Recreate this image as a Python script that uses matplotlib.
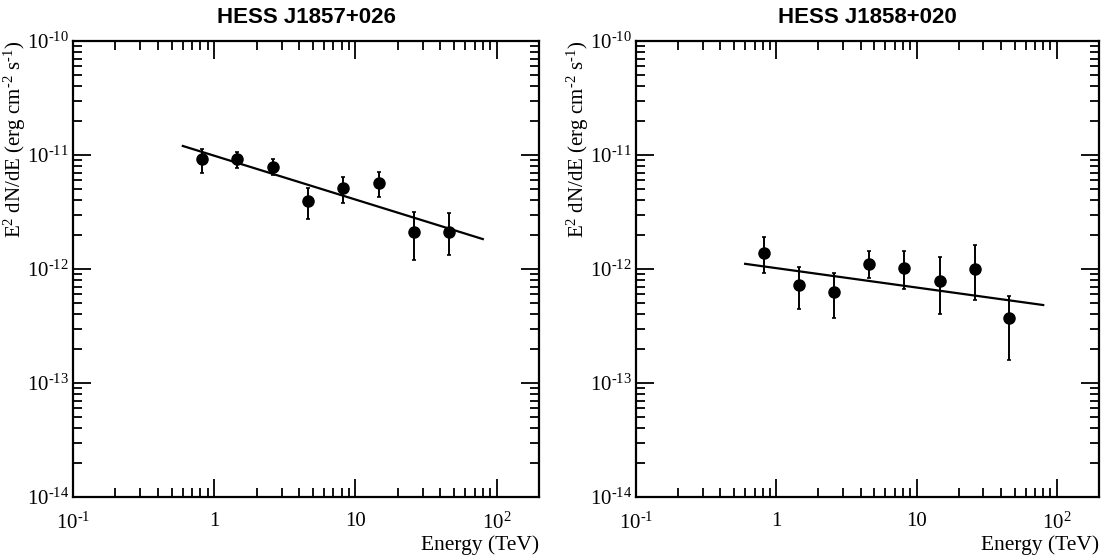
import matplotlib
matplotlib.use("Agg")
import matplotlib.pyplot as plt
import matplotlib.ticker as mticker
import numpy as np

# ---------------- data ----------------
energy = [0.82, 1.46, 2.6, 4.6, 8.2, 14.6, 26.0, 46.0]

titles = ["HESS J1857+026", "HESS J1858+020"]

flux_a = [9.16e-12, 9.16e-12, 7.89e-12, 3.94e-12, 5.10e-12, 5.71e-12, 2.10e-12, 2.10e-12]
flux_a_hi = [1.12e-11, 1.06e-11, 9.16e-12, 5.16e-12, 6.41e-12, 7.14e-12, 3.18e-12, 3.12e-12]
flux_a_lo = [7.00e-12, 7.64e-12, 6.64e-12, 2.75e-12, 3.82e-12, 4.26e-12, 1.20e-12, 1.33e-12]

flux_b = [1.38e-12, 7.24e-13, 6.28e-13, 1.11e-12, 1.03e-12, 7.89e-13, 1.00e-12, 3.70e-13]
flux_b_hi = [1.90e-12, 1.04e-12, 9.23e-13, 1.43e-12, 1.45e-12, 1.27e-12, 1.63e-12, 5.80e-13]
flux_b_lo = [9.20e-13, 4.43e-13, 3.74e-13, 8.28e-13, 6.64e-13, 4.01e-13, 5.35e-13, 1.59e-13]

# power-law fit lines (end points)
fit_energy = [0.6, 80.0]
fit_a = [1.20e-11, 1.83e-12]
fit_b = [1.11e-12, 4.83e-13]

xtick_vals = [0.1, 1, 10, 100]
xtick_labels = [r"$10^{\text{-}1}$", "1", "10", r"$10^{2}$"]
ytick_vals = [1e-14, 1e-13, 1e-12, 1e-11, 1e-10]
ytick_labels = [r"$10^{\text{-}14}$", r"$10^{\text{-}13}$", r"$10^{\text{-}12}$",
                r"$10^{\text{-}11}$", r"$10^{\text{-}10}$"]

# ---------------- style ----------------
plt.rcParams["mathtext.fontset"] = "custom"
plt.rcParams["mathtext.rm"] = "Liberation Serif"
plt.rcParams["mathtext.it"] = "Liberation Serif:italic"
plt.rcParams["mathtext.bf"] = "Liberation Serif:bold"
plt.rcParams["font.family"] = ["Liberation Serif", "DejaVu Serif"]

fig = plt.figure(figsize=(11.08, 5.58), dpi=100)
W, H = 1108, 558
boxes = [(73, 539), (636, 1099)]
top_px, bot_px = 41, 497

datasets = [
    (flux_a, flux_a_lo, flux_a_hi, fit_a),
    (flux_b, flux_b_lo, flux_b_hi, fit_b),
]

for (x0, x1), title, (f, lo, hi, fit) in zip(boxes, titles, datasets):
    ax = fig.add_axes([x0 / W, 1 - bot_px / H, (x1 - x0) / W, (bot_px - top_px) / H])
    ax.set_xscale("log")
    ax.set_yscale("log")
    ax.set_xlim(0.1, 200)
    ax.set_ylim(1e-14, 1e-10)

    f_arr = np.array(f)
    yerr = [f_arr - np.array(lo), np.array(hi) - f_arr]
    ax.errorbar(energy, f, yerr=yerr, fmt="o", color="black", ms=8,
                elinewidth=1.4, capsize=1.5, capthick=1.2, zorder=3)
    ax.plot(fit_energy, fit, color="black", lw=1.6, zorder=2)

    for s in ax.spines.values():
        s.set_linewidth(1.6)

    ax.xaxis.set_major_locator(mticker.FixedLocator(xtick_vals))
    ax.xaxis.set_major_formatter(mticker.FixedFormatter(xtick_labels))
    ax.yaxis.set_major_locator(mticker.FixedLocator(ytick_vals))
    ax.yaxis.set_major_formatter(mticker.FixedFormatter(ytick_labels))
    ax.xaxis.set_minor_locator(mticker.LogLocator(base=10, subs=np.arange(2, 10), numticks=20))
    ax.yaxis.set_minor_locator(mticker.LogLocator(base=10, subs=np.arange(2, 10), numticks=20))
    ax.xaxis.set_minor_formatter(mticker.NullFormatter())
    ax.yaxis.set_minor_formatter(mticker.NullFormatter())

    ax.tick_params(which="both", direction="in", top=True, right=True, width=1.3)
    ax.tick_params(which="major", length=13, labelsize=15)
    ax.tick_params(which="minor", length=6.5)
    ax.tick_params(axis="x", which="major", pad=11)
    ax.tick_params(axis="y", which="major", pad=3)

    ax.set_title(title, family="Liberation Sans", fontweight="bold", fontsize=16, pad=13)
    ax.set_xlabel("Energy (TeV)", fontsize=15.5, loc="right", labelpad=1)
    ax.set_ylabel(r"E$^{2}$ dN/dE (erg cm$^{\text{-}2}$ s$^{\text{-}1}$)", fontsize=15, loc="top")
    ax.yaxis.set_label_coords(-45 / (x1 - x0), 1.0)

fig.savefig("out.png", dpi=100)
